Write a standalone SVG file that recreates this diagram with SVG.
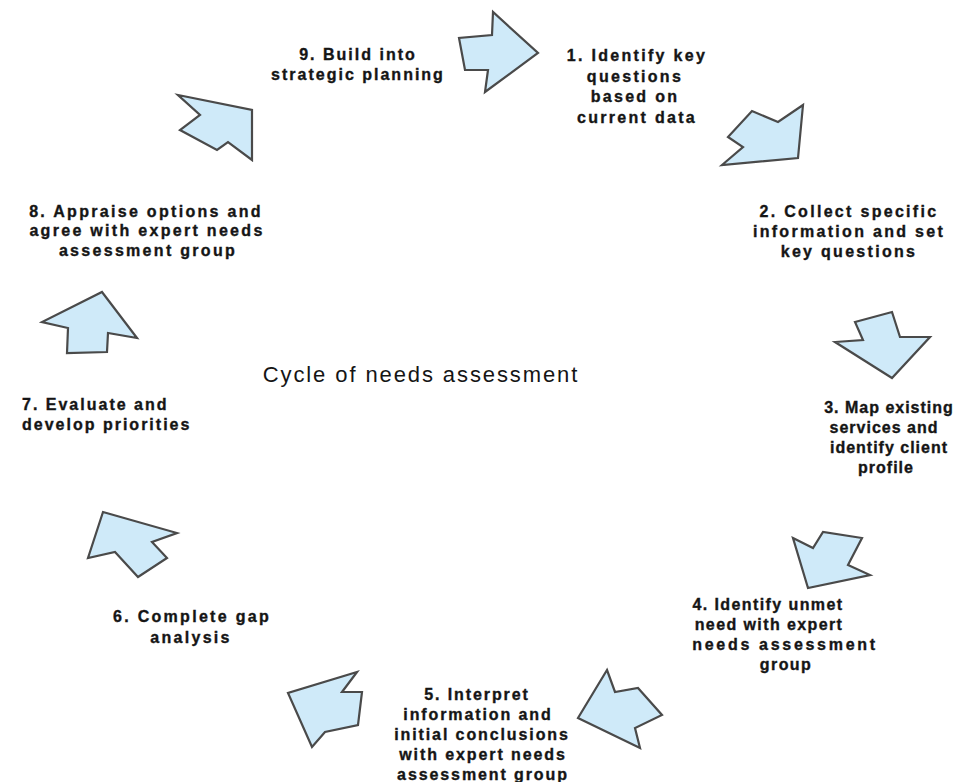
<svg xmlns="http://www.w3.org/2000/svg" width="955" height="782" viewBox="0 0 955 782">
<style>
.lbl{font-family:"Liberation Sans",Arial,sans-serif;font-weight:bold;font-size:16px;letter-spacing:2.3px;fill:#151515;stroke:#151515;stroke-width:0.35;text-anchor:middle}
.title{font-family:"Liberation Sans",Arial,sans-serif;font-size:22px;letter-spacing:1.9px;fill:#151515;text-anchor:middle}
.arr{fill:#cfeaf9;stroke:#4a4a4a;stroke-width:2.2;stroke-linejoin:miter}
</style>
<rect width="955" height="782" fill="#ffffff"/>
<g id="connectors">
<polygon class="arr" points="493,12 492,35 459,38 465,70 488,70 485,92 538,53"/>
<polygon class="arr" points="803,105 778,122 752,111 728,137 743,147 722,165 798,158"/>
<polygon class="arr" points="855,322 892,312 900,337 930,337 892,378 835,342 863,340"/>
<polygon class="arr" points="793,538 813,548 823,532 862,538 848,565 870,575 808,588"/>
<polygon class="arr" points="607,670 615,692 638,688 662,715 635,728 640,748 578,718"/>
<polygon class="arr" points="357,672 342,692 362,692 358,725 325,732 312,747 288,693"/>
<polygon class="arr" points="103,512 177,533 152,542 167,558 138,577 115,552 88,558"/>
<polygon class="arr" points="102,292 137,338 108,333 107,352 67,353 68,328 42,322"/>
<polygon class="arr" points="178,95 252,110 252,160 228,142 217,150 180,130 200,115"/>
</g>
<g id="title"><text class="title" x="421" y="382">Cycle of needs assessment</text></g>
<g id="step1"><text class="lbl"><tspan x="637" y="61">1. Identify key</tspan><tspan x="635" y="82">questions</tspan><tspan x="635" y="102">based on</tspan><tspan x="637" y="123">current data</tspan></text></g>
<g id="step2"><text class="lbl"><tspan x="849" y="217">2. Collect specific</tspan><tspan x="849" y="237">information and set</tspan><tspan x="849" y="257">key questions</tspan></text></g>
<g id="step3"><text class="lbl" style="letter-spacing:1px"><tspan x="889" y="413">3. Map existing</tspan><tspan x="884" y="433">services and</tspan><tspan x="889" y="453">identify client</tspan><tspan x="886" y="473">profile</tspan></text></g>
<g id="step4"><text class="lbl" style="letter-spacing:1.4px"><tspan x="768" y="610">4. Identify unmet</tspan><tspan x="769" y="630">need with expert</tspan><tspan x="785" y="650" style="letter-spacing:2.7px">needs assessment</tspan><tspan x="786" y="670">group</tspan></text></g>
<g id="step5"><text class="lbl" style="letter-spacing:1.9px"><tspan x="477" y="700">5. Interpret</tspan><tspan x="478" y="720">information and</tspan><tspan x="482" y="740">initial conclusions</tspan><tspan x="483" y="760">with expert needs</tspan><tspan x="483" y="780">assessment group</tspan></text></g>
<g id="step6"><text class="lbl"><tspan x="192" y="622">6. Complete gap</tspan><tspan x="191" y="643">analysis</tspan></text></g>
<g id="step7"><text class="lbl" style="text-anchor:start;letter-spacing:2px"><tspan x="22" y="410">7. Evaluate and</tspan><tspan x="22" y="430">develop priorities</tspan></text></g>
<g id="step8"><text class="lbl"><tspan x="146" y="217">8. Appraise options and</tspan><tspan x="147" y="236">agree with expert needs</tspan><tspan x="148" y="256">assessment group</tspan></text></g>
<g id="step9"><text class="lbl" style="letter-spacing:2px"><tspan x="358" y="60">9. Build into</tspan><tspan x="358" y="80">strategic planning</tspan></text></g>
</svg>
